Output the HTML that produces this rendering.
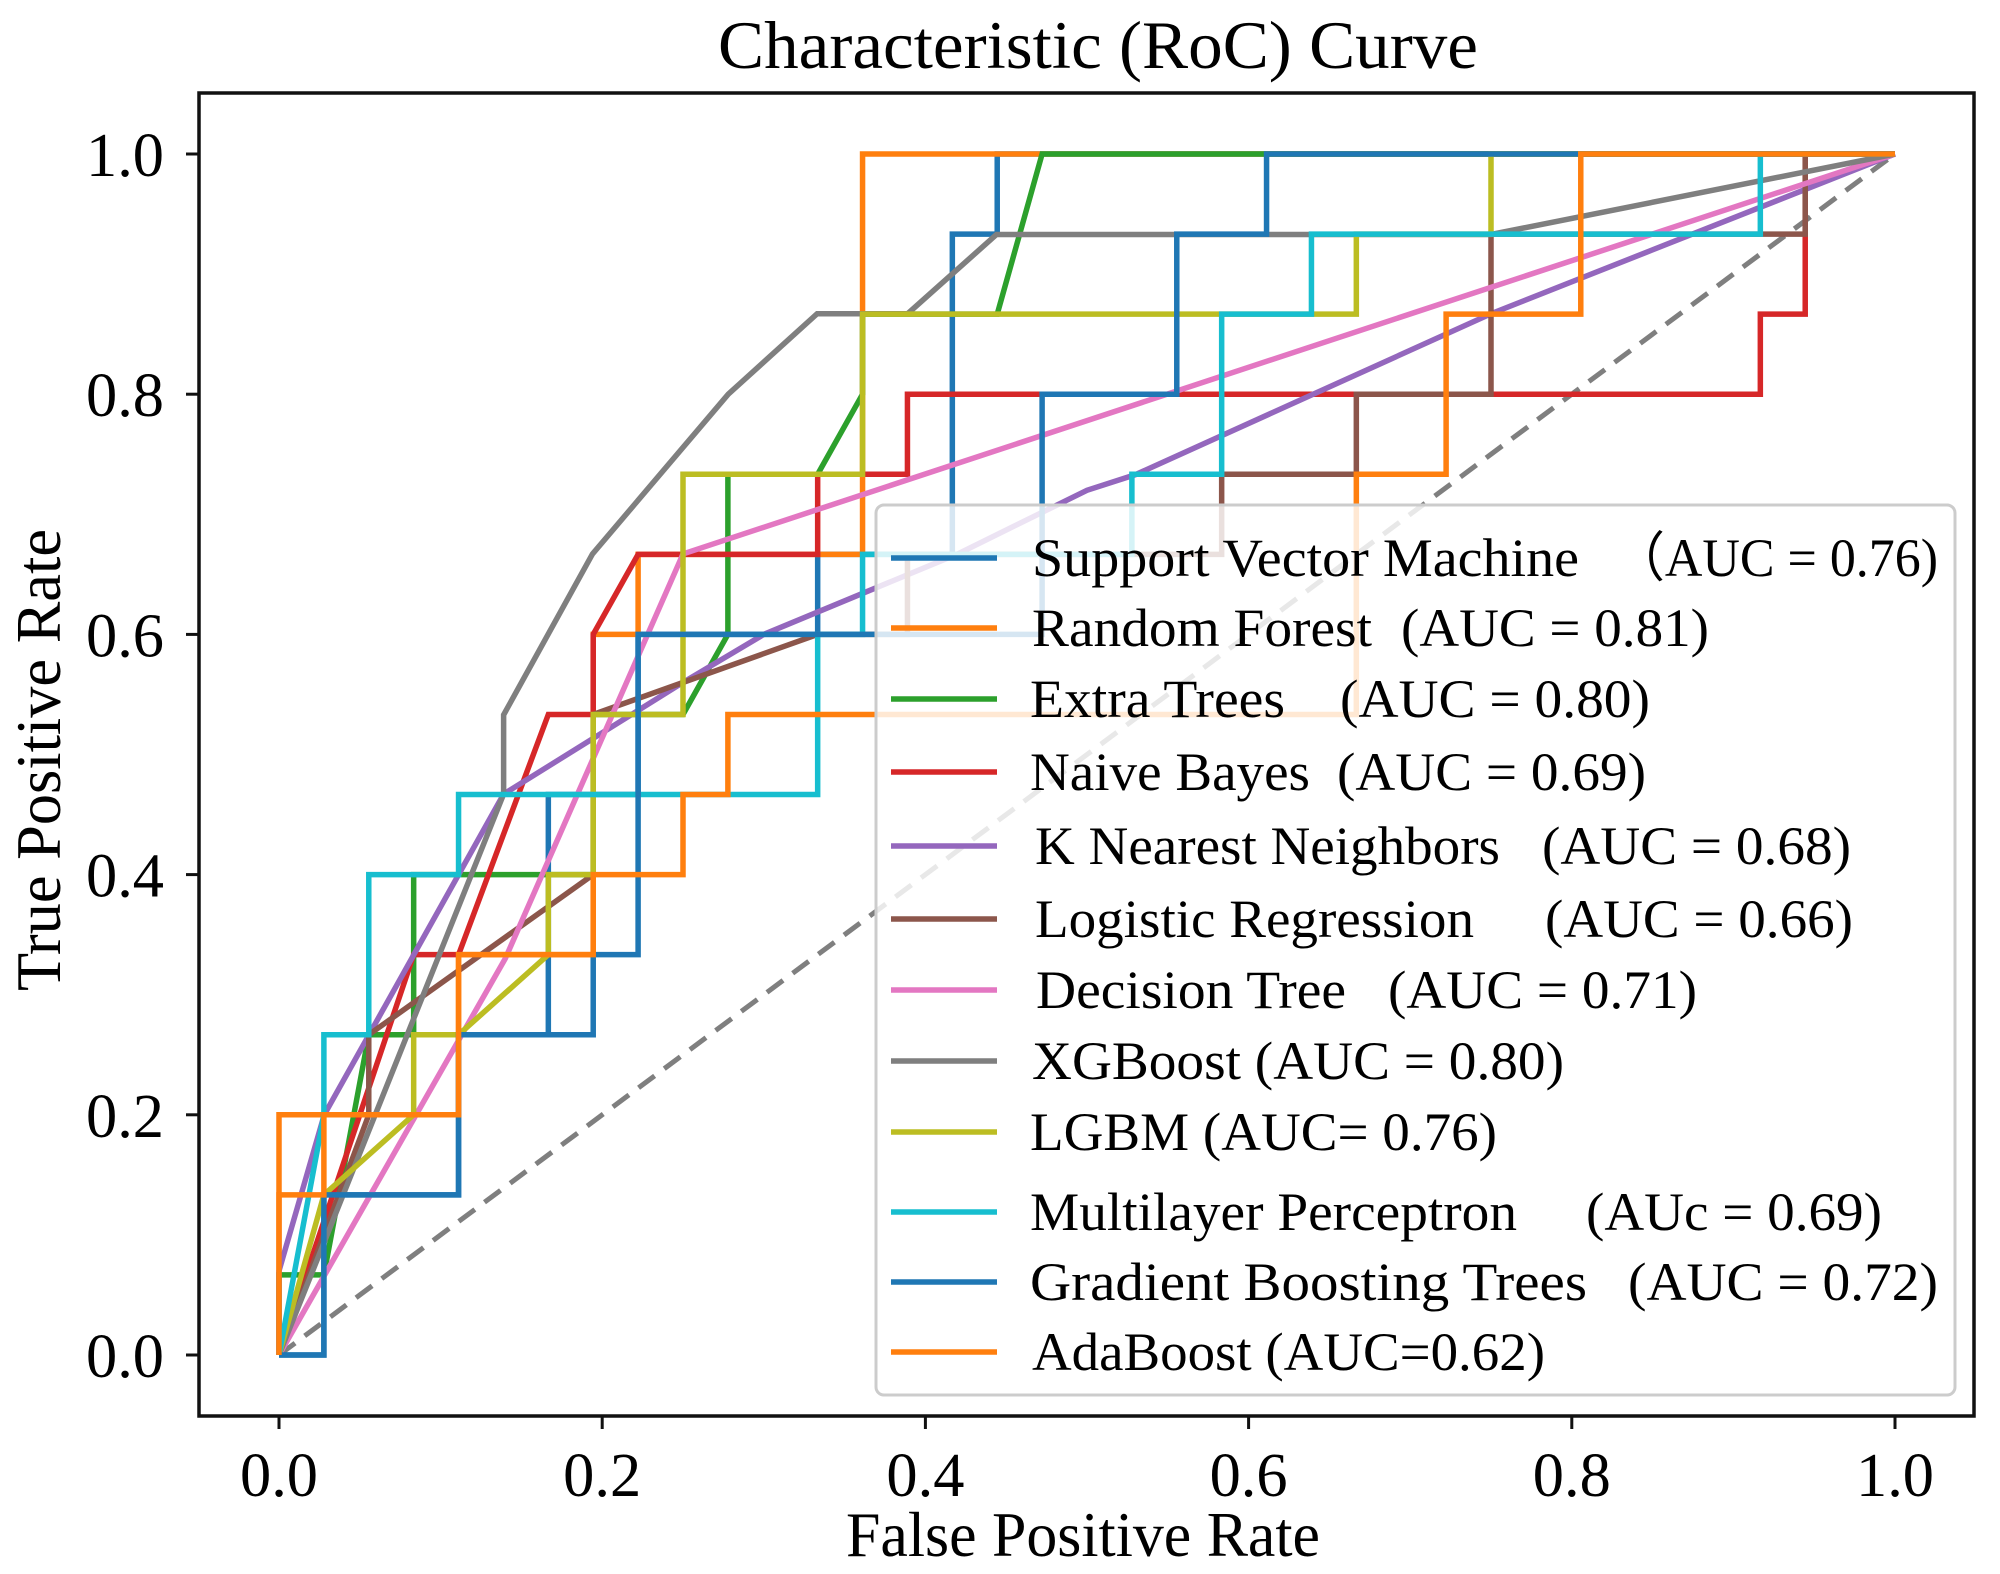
<!DOCTYPE html>
<html><head><meta charset="utf-8"><style>
body{margin:0;background:#fff;}
svg{display:block;font-family:"Liberation Serif",serif;}
</style></head><body>
<svg id="chart" width="2000" height="1574" viewBox="0 0 2000 1574" xmlns="http://www.w3.org/2000/svg">
<rect x="0" y="0" width="2000" height="1574" fill="#fff"/>
<text x="1098" y="68" font-size="68" text-anchor="middle" textLength="760" lengthAdjust="spacingAndGlyphs">Characteristic (RoC) Curve</text>
<text x="1083" y="1556" font-size="64" text-anchor="middle" textLength="474" lengthAdjust="spacingAndGlyphs">False Positive Rate</text>
<text transform="translate(60,760) rotate(-90)" font-size="64" text-anchor="middle" textLength="462" lengthAdjust="spacingAndGlyphs">True Positive Rate</text>
<g id="plot"></g>
<g id="legend"></g>
</svg>
<script>
const xTicks=[0,0.2,0.4,0.6,0.8,1.0];
const yTicks=[0,0.2,0.4,0.6,0.8,1.0];
const tickLabels=["0.0","0.2","0.4","0.6","0.8","1.0"];
// step curves in grid units: FPR = i/36, TPR = j/15
const svmI=[0,1,1,4,4,6,6,8,8,12,12,15,15,16,16,36];
const svmJ=[0,0,2,2,4,4,7,7,9,9,10,10,14,14,15,15];
const rfI=[0,0,4,4,7,7,8,8,13,13,36];
const rfJ=[0,3,3,5,5,9,9,10,10,15,15];
const etI=[0,0,1,2,3,3,7,7,9,10,10,12,13,13,16,17,36];
const etJ=[0,1,1,4,4,6,6,8,8,9,11,11,12,13,13,15,15];
const nbI=[0,3,4,6,7,7,8,12,12,14,14,33,33,34,34,36];
const nbJ=[0,5,5,8,8,9,10,10,11,11,12,12,13,13,15,15];
const lrI=[0,2,2,7,7,12,14,14,21,21,24,24,27,27,34,34,36];
const lrJ=[0,3,4,6,8,9,9,10,10,11,11,12,12,14,14,15,15];
const lgbmI=[0,1,3,3,4,6,6,7,7,9,9,13,13,24,24,27,27,36];
const lgbmJ=[0,2,3,4,4,5,6,6,8,8,11,11,13,13,14,14,15,15];
const mlpI=[0,1,1,2,2,4,4,12,12,13,13,19,19,21,21,23,23,33,33,36];
const mlpJ=[0,3,4,4,6,6,7,7,9,9,10,10,11,11,13,13,14,14,15,15];
const gbtI=[0,1,1,4,4,7,7,8,8,17,17,20,20,22,22,36];
const gbtJ=[0,0,2,2,4,4,5,5,9,9,12,12,14,14,15,15];
const adaI=[0,0,1,1,4,4,7,7,9,9,10,10,24,24,26,26,29,29,36];
const adaJ=[0,2,2,3,3,5,5,6,6,7,7,8,8,11,11,13,13,15,15];
// smooth curves in raw FPR/TPR
const knnX=[0,0,0.028,0.139,0.25,0.3,0.42,0.5,0.53,0.75,1];
const knnY=[0,0.07,0.2,0.467,0.56,0.6,0.667,0.72,0.733,0.867,1];
const dtX=[0,0.14,0.25,1];
const dtY=[0,0.33,0.667,1];
const xgbX=[0,0.139,0.139,0.194,0.278,0.333,0.389,0.444,0.75,1];
const xgbY=[0,0.467,0.533,0.667,0.8,0.867,0.867,0.933,0.933,1];
const names=["Support Vector Machine","Random Forest","Extra Trees","Naive Bayes","K Nearest Neighbors","Logistic Regression","Decision Tree","XGBoost","LGBM","Multilayer Perceptron","Gradient  Boosting Trees","AdaBoost"];
const aucs=["（AUC =  0.76)","(AUC = 0.81)","(AUC = 0.80)","(AUC = 0.69)","(AUC = 0.68)","(AUC = 0.66)","(AUC = 0.71)","(AUC = 0.80)","(AUC= 0.76)","(AUc = 0.69)","(AUC = 0.72)","(AUC=0.62)"];
const colors=["#1f77b4","#ff7f0e","#2ca02c","#d62728","#9467bd","#8c564b","#e377c2","#7f7f7f","#bcbd22","#17becf","#1f77b4","#ff7f0e"];

const NS="http://www.w3.org/2000/svg";
const X0=279,X1=1895,Y0=1355,Y1=154;
function sx(v){return X0+v*(X1-X0);}
function sy(v){return Y0-v*(Y0-Y1);}
const plot=document.getElementById('plot');
function mk(tag,attrs,parent){const e=document.createElementNS(NS,tag);for(const k in attrs)e.setAttribute(k,attrs[k]);(parent||plot).appendChild(e);return e;}

const frame=mk('rect',{x:199,y:93,width:1775,height:1323,fill:'none',stroke:'#111','stroke-width':3.5});


xTicks.forEach((t,i)=>{
  const tk=mk('line',{x1:sx(t),x2:sx(t),y1:1416,y2:1429,stroke:'#111','stroke-width':3});
  
  
  const tl=mk('text',{x:sx(t),y:1496,'font-size':62,'text-anchor':'middle',textLength:78,lengthAdjust:'spacingAndGlyphs'});
  tl.textContent=tickLabels[i];
  
  
});
yTicks.forEach((t,i)=>{
  const tk=mk('line',{x1:186,x2:199,y1:sy(t),y2:sy(t),stroke:'#111','stroke-width':3});
  
  
  const tl=mk('text',{x:164,y:sy(t)+22,'font-size':62,'text-anchor':'end',textLength:78,lengthAdjust:'spacingAndGlyphs'});
  tl.textContent=tickLabels[i];
  
  
});
const diag=mk('line',{x1:sx(0),y1:sy(0),x2:sx(1),y2:sy(1),stroke:'#7f7f7f','stroke-width':5,'stroke-dasharray':'20 12'});



function gridPts(I,J){return I.map((v,k)=>sx(v/36)+','+sy(J[k]/15)).join(' ');}
function rawPts(X,Y){return X.map((v,k)=>sx(v)+','+sy(Y[k])).join(' ');}
const series=[
 ['svm-curve',gridPts(svmI,svmJ),0],
 ['random-forest-curve',gridPts(rfI,rfJ),1],
 ['extra-trees-curve',gridPts(etI,etJ),2],
 ['naive-bayes-curve',gridPts(nbI,nbJ),3],
 ['knn-curve',rawPts(knnX,knnY),4],
 ['logistic-regression-curve',gridPts(lrI,lrJ),5],
 ['decision-tree-curve',rawPts(dtX,dtY),6],
 ['xgboost-curve',rawPts(xgbX,xgbY),7],
 ['lgbm-curve',gridPts(lgbmI,lgbmJ),8],
 ['mlp-curve',gridPts(mlpI,mlpJ),9],
 ['gradient-boosting-curve',gridPts(gbtI,gbtJ),10],
 ['adaboost-curve',gridPts(adaI,adaJ),11]
];
series.forEach(s=>{
  const p=mk('polyline',{points:s[1],fill:'none',stroke:colors[s[2]],'stroke-width':5.5,'stroke-linejoin':'miter'});
  
  
});

const lg=document.getElementById('legend');
const box=mk('rect',{x:876,y:505,width:1079,height:890,rx:8,fill:'rgba(255,255,255,0.82)',stroke:'#ccc','stroke-width':3},lg);


const rowY=[558,628,699,772,846,919,990,1061,1132,1212,1282,1352];
const nameX=[1032,1032,1030,1030,1035,1035,1036,1032,1030,1030,1030,1032];
const nameEnd=[1579,1372,1285,1310,1500,1474,1346,0,0,1517,1587,0];
const aucX=[1613,1401,1340,1337,1542,1545,1388,0,0,1586,1628,0];
const aucEnd=[1938,1709,1650,1646,1851,1853,1697,1564,1497,1882,1938,1545];
names.forEach((n,i)=>{
  const g=mk('g',{},lg);
  
  
  mk('line',{x1:891,x2:997,y1:rowY[i],y2:rowY[i],stroke:colors[i],'stroke-width':5.5},g);
  if(nameEnd[i]){
    const t=mk('text',{x:nameX[i],y:rowY[i]+18,'font-size':54,textLength:nameEnd[i]-nameX[i],lengthAdjust:'spacingAndGlyphs'},g);
    t.textContent=n;
    const a=mk('text',{x:aucX[i],y:rowY[i]+18,'font-size':54,textLength:aucEnd[i]-aucX[i],lengthAdjust:'spacingAndGlyphs'},g);
    a.textContent=aucs[i];
  } else {
    const t=mk('text',{x:nameX[i],y:rowY[i]+18,'font-size':54,textLength:aucEnd[i]-nameX[i],lengthAdjust:'spacingAndGlyphs'},g);
    t.textContent=n+' '+aucs[i];
  }
});
</script>
</body></html>
